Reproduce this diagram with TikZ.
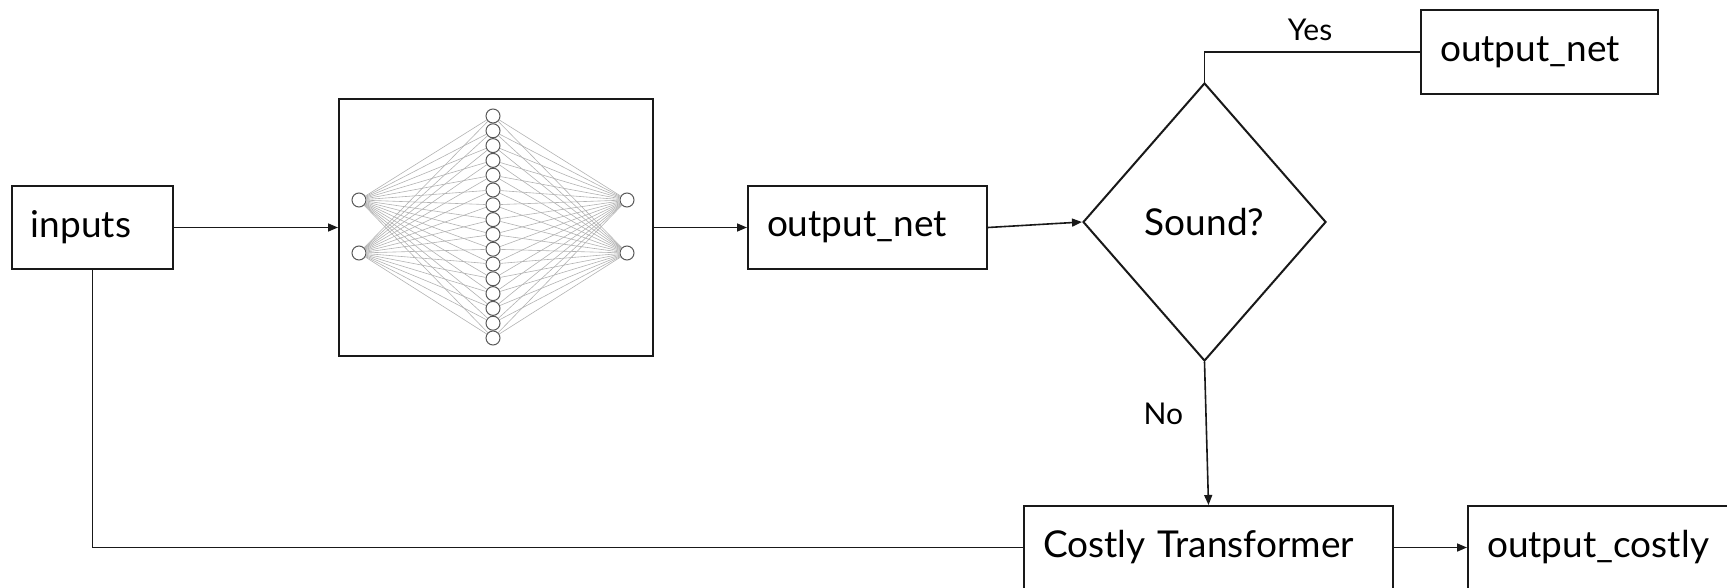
\documentclass[tikz,border=0pt]{standalone}
\usepackage{fontspec}
\setmainfont{Lato}
\usetikzlibrary{shapes.geometric,arrows.meta}
\begin{document}
\begin{tikzpicture}[x=0.5pt,y=-0.5pt,
  box/.style={draw=black!90, line width=1pt, inner xsep=9.5pt, inner ysep=0pt,
    align=left, font=\fontsize{18.5}{21}\selectfont},
  decision/.style={draw=black!90, line width=1pt, diamond, inner sep=0pt,
    font=\fontsize{18.5}{21}\selectfont},
  netbox/.style={draw=black!90, line width=1pt, inner sep=0pt},
  neuron/.style={circle, draw=black!65, fill=white, line width=0.5pt,
    minimum size=7pt, inner sep=0pt},
  nnedge/.style={draw=black!30, line width=0.3pt},
  conn/.style={draw=black!90, line width=0.8pt},
  arr/.style={conn, -{Triangle[length=5pt,width=4pt]}},
  tag/.style={font=\fontsize{15}{17}\selectfont, inner sep=0pt}]

\useasboundingbox (0,0) rectangle (1727,588);

% main blocks
\node[box, text width=61.5pt, minimum height=41.5pt] (in) at (92.5,227.5) {inputs};
\node[netbox, minimum width=157pt, minimum height=128.5pt] (nn) at (496,227.5) {};
\node[box, text width=100.5pt, minimum height=41.5pt] (onet) at (867.5,227.5) {output\_net};
\node[decision, minimum width=121.5pt, minimum height=139pt] (snd) at (1204.5,222) {Sound?};
\node[box, text width=99.5pt, minimum height=42pt] (onetb) at (1539.5,52) {output\_net};
\node[box, text width=165.5pt, minimum height=41.5pt] (costly) at (1208.5,547.5) {Costly Transformer};
\node[box, text width=112pt, minimum height=41.5pt] (ocostly) at (1599,547.5) {output\_costly};

% small network drawn inside the block
\foreach \i/\y in {1/200,2/253} {
  \node[neuron] (a\i) at (359,\y) {};
  \node[neuron] (o\i) at (627,\y) {};
}
\foreach \j in {1,...,16} {
  \node[neuron] (h\j) at (493,{116+14.8*(\j-1)}) {};
}
\foreach \i in {1,2} {
  \foreach \j in {1,...,16} {
    \draw[nnedge] (a\i) -- (h\j);
    \draw[nnedge] (h\j) -- (o\i);
  }
}

% connectors
\draw[arr] (in.east) -- (nn.west);
\draw[arr] (nn.east) -- (onet.west);
\draw[arr] (onet.east) -- (snd.west);
\draw[conn] (snd.north) |- node[tag, pos=0.745, above=5pt] {Yes} (onetb.west);
\draw[arr] (snd.south) -- node[tag, pos=0.36, left=11pt] {No} (costly.north);
\draw[conn] (in.south) |- (costly.west);
\draw[arr] (costly.east) -- (ocostly.west);

\end{tikzpicture}
\end{document}
